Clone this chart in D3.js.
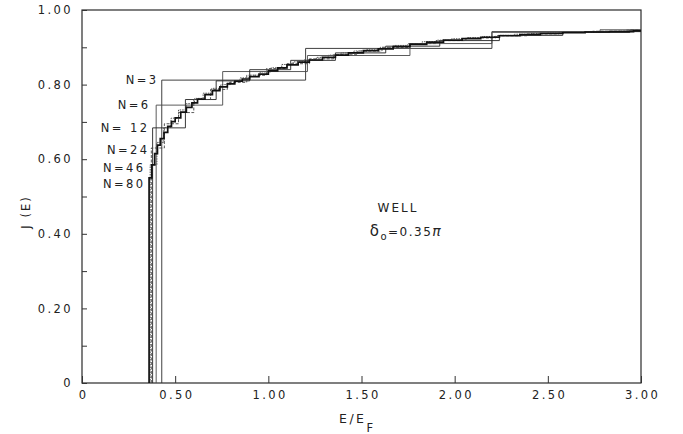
<!DOCTYPE html>
<html>
<head>
<meta charset="utf-8">
<script src="https://cdn.jsdelivr.net/npm/d3@7"></script>
<style>
  html, body { margin: 0; padding: 0; background: #fff; }
  svg text { font-family: "DejaVu Sans", sans-serif; fill: #222; }
</style>
</head>
<body>
<svg id="chart" width="683" height="434"></svg>
<script>
// ---- data ----
const xTicks = [0, 0.5, 1.0, 1.5, 2.0, 2.5, 3.0];
const xTickLabels = ["0", "0.50", "1.00", "1.50", "2.00", "2.50", "3.00"];
const yTicks = [0, 0.2, 0.4, 0.6, 0.8, 1.0];
const yTickLabels = ["0", "0.20", "0.40", "0.60", "0.80", "1.00"];
const yMinorTicks = [0.1, 0.3, 0.5, 0.7, 0.9];
const seriesNames = ["N=3", "N=6", "N= 12", "N=24", "N=46", "N=80"];

// step starts: [E/E_F, J(E)] ; J holds until the next step
const stepsN3 = [[0.428, 0.812], [1.20, 0.897], [2.20, 0.942]];
const stepsN6 = [[0.398, 0.745], [0.755, 0.835], [1.21, 0.878], [1.76, 0.910], [2.20, 0.940], [2.78, 0.947]];
const stepsN12 = [[0.379, 0.684], [0.555, 0.760], [0.72, 0.810], [0.90, 0.840], [1.12, 0.865], [1.36, 0.885],
                  [1.63, 0.903], [1.92, 0.918], [2.24, 0.932], [2.58, 0.940], [2.94, 0.946]];
const stepsN24 = [[0.372, 0.630], [0.442, 0.695], [0.518, 0.725], [0.60, 0.760], [0.69, 0.787], [0.78, 0.806],
                  [0.884, 0.825], [0.99, 0.843], [1.10, 0.856], [1.22, 0.869], [1.35, 0.880], [1.48, 0.890],
                  [1.61, 0.900], [1.76, 0.910], [1.90, 0.918], [2.06, 0.925], [2.22, 0.931], [2.39, 0.936],
                  [2.56, 0.940], [2.74, 0.943], [2.92, 0.946]];
const stepsN46 = [[0.366, 0.585], [0.402, 0.645], [0.439, 0.685], [0.478, 0.710], [0.518, 0.732], [0.560, 0.749],
                  [0.604, 0.763], [0.650, 0.777], [0.697, 0.790], [0.745, 0.800], [0.796, 0.810], [0.848, 0.818],
                  [0.901, 0.825], [0.956, 0.834], [1.014, 0.845], [1.072, 0.854], [1.133, 0.861], [1.195, 0.867],
                  [1.258, 0.873], [1.323, 0.879], [1.390, 0.885], [1.459, 0.890], [1.529, 0.895], [1.601, 0.900],
                  [1.674, 0.905], [1.749, 0.910], [1.826, 0.915], [1.904, 0.919], [1.984, 0.923], [2.066, 0.926],
                  [2.149, 0.929], [2.234, 0.932], [2.321, 0.935], [2.409, 0.937], [2.499, 0.939], [2.590, 0.940],
                  [2.684, 0.941], [2.778, 0.942], [2.875, 0.943], [2.974, 0.944]];
const stepsN80 = [[0.360, 0.550], [0.375, 0.585], [0.39, 0.615], [0.405, 0.638], [0.42, 0.655], [0.44, 0.672],
                  [0.46, 0.688], [0.48, 0.701], [0.50, 0.711], [0.53, 0.726], [0.56, 0.739], [0.59, 0.751],
                  [0.62, 0.761], [0.66, 0.773], [0.70, 0.784], [0.74, 0.794], [0.78, 0.802], [0.82, 0.809],
                  [0.86, 0.815], [0.90, 0.821], [0.95, 0.828], [1.00, 0.837], [1.05, 0.845], [1.10, 0.853],
                  [1.16, 0.860], [1.22, 0.866], [1.29, 0.873], [1.36, 0.879], [1.43, 0.885], [1.51, 0.891],
                  [1.59, 0.896], [1.67, 0.902], [1.76, 0.908], [1.85, 0.914], [1.94, 0.919], [2.04, 0.923],
                  [2.14, 0.927], [2.24, 0.931], [2.35, 0.934], [2.46, 0.937], [2.58, 0.939], [2.70, 0.941],
                  [2.83, 0.942], [2.96, 0.944]];
const allSteps = [stepsN3, stepsN6, stepsN12, stepsN24, stepsN46, stepsN80];

// ---- layout / style ----
const svg = d3.select("#chart");
const X0 = 82, X1 = 641, Y0 = 383, Y1 = 10;
const x = d3.scaleLinear().domain([0, 3]).range([X0, X1]);
const y = d3.scaleLinear().domain([0, 1]).range([Y0, Y1]);

const styles = [
  { color: "#2b2b2b", width: 0.9, dash: null },
  { color: "#4a4a4a", width: 0.9, dash: null },
  { color: "#222", width: 0.9, dash: null },
  { color: "#444", width: 0.9, dash: "3,1.5" },
  { color: "#555", width: 1.0, dash: "1.5,1" },
  { color: "#111", width: 1.7, dash: null }
];
const labelPos = [
  { x: 156, y: 80 }, { x: 148, y: 105 }, { x: 147, y: 128 },
  { x: 147, y: 150 }, { x: 143, y: 168 }, { x: 143, y: 184 }
];

const fontSize = 11.5, ls = 2.4;

// frame
svg.append("rect").attr("x", X0).attr("y", Y1).attr("width", X1 - X0).attr("height", Y0 - Y1)
  .attr("fill", "none").attr("stroke", "#2a2a2a").attr("stroke-width", 1.2);

// y axis (inward ticks)
const yAxis = d3.axisLeft(y).tickValues(yTicks).tickSize(-5).tickPadding(9)
  .tickFormat((d, i) => yTickLabels[i]);
const gy = svg.append("g").attr("transform", `translate(${X0},0)`).call(yAxis);
gy.select(".domain").remove();
gy.selectAll(".tick line").attr("stroke", "#333").attr("stroke-width", 1);
gy.selectAll(".tick text").attr("font-size", fontSize).style("letter-spacing", ls + "px")
  .attr("font-family", "DejaVu Sans").attr("fill", "#222");

const yMinor = d3.axisLeft(y).tickValues(yMinorTicks).tickSize(-5).tickFormat("");
const gym = svg.append("g").attr("transform", `translate(${X0},0)`).call(yMinor);
gym.select(".domain").remove();
gym.selectAll(".tick line").attr("stroke", "#333").attr("stroke-width", 1);

// x axis (inward ticks)
const xAxis = d3.axisBottom(x).tickValues(xTicks).tickSize(-7).tickPadding(8)
  .tickFormat((d, i) => xTickLabels[i]);
const gx = svg.append("g").attr("transform", `translate(0,${Y0})`).call(xAxis);
gx.select(".domain").remove();
gx.selectAll(".tick line").attr("stroke", "#333").attr("stroke-width", 1);
gx.selectAll(".tick text").attr("font-size", fontSize).style("letter-spacing", ls + "px")
  .attr("dx", ls / 2).attr("font-family", "DejaVu Sans").attr("fill", "#222");

// step curves
const line = d3.line().x(d => x(d[0])).y(d => y(d[1])).curve(d3.curveStepAfter);
allSteps.forEach((steps, i) => {
  const pts = [[steps[0][0], 0]].concat(steps).concat([[3.0, steps[steps.length - 1][1]]]);
  const s = styles[i];
  svg.append("path").datum(pts).attr("d", line)
    .attr("fill", "none").attr("stroke", s.color).attr("stroke-width", s.width)
    .attr("stroke-dasharray", s.dash);
});

// series labels
seriesNames.forEach((name, i) => {
  svg.append("text").attr("x", labelPos[i].x + ls).attr("y", labelPos[i].y + 4)
    .attr("text-anchor", "end").attr("font-size", fontSize)
    .style("letter-spacing", ls + "px").text(name);
});

// annotation
svg.append("text").attr("x", 398).attr("y", 212).attr("text-anchor", "middle")
  .attr("font-size", 12).style("letter-spacing", "2px").text("WELL");
const ann = svg.append("text").attr("x", 406).attr("y", 236).attr("text-anchor", "middle")
  .attr("font-size", 12).style("letter-spacing", "1.5px");
ann.append("tspan").attr("font-size", 15).text("δ");
ann.append("tspan").attr("font-size", 10).attr("dy", 4).text("o");
ann.append("tspan").attr("dy", -4).text("=0.35");
ann.append("tspan").attr("font-size", 14).attr("font-style", "italic").text("π");

// axis titles
svg.append("text").attr("transform", "translate(30,212) rotate(-90)").attr("text-anchor", "middle")
  .attr("font-size", fontSize).style("letter-spacing", "2px").text("J (E)");
const xt = svg.append("text").attr("x", 339).attr("y", 423).attr("font-size", 12.5)
  .style("letter-spacing", "2.5px");
xt.append("tspan").text("E/E");
xt.append("tspan").attr("dy", 9).attr("font-size", 11.5).text("F");
</script>
</body>
</html>
